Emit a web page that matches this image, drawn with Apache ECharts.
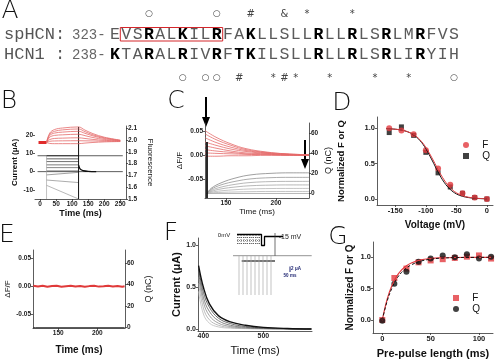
<!DOCTYPE html>
<html><head><meta charset="utf-8">
<script src="https://cdn.jsdelivr.net/npm/echarts@6/dist/echarts.min.js"></script>
<style>html,body{margin:0;padding:0;background:#fff}#c{width:500px;height:361px}</style>
</head><body><div id="c"></div>
<script>
// ================= DATA =================
// Panel A: sequences
const spLabel = 'spHCN:';
const spStart = '323-';
const spSeq = 'EVSRALKILRFAKLLSLLRLLRLSRLMRFVS';
const spBold = [3, 6, 9, 12, 18, 21, 24, 27];
const hcLabel = 'HCN1 :';
const hcStart = '238-';
const hcSeq = 'KTARALRIVRFTKILSLLRLLRLSRLIRYIH';
const hcBold = [0, 3, 6, 9, 11, 12, 18, 21, 24, 27];
const topMarks = ['○', '○', '#', '&', '*', '*'];
const topCols = [3, 9, 12, 15, 17, 21];
const botMarks = ['○', '○', '○', '#', '*', '#', '*', '*', '*', '*', '○'];
const botCols = [6, 8, 9, 11, 14, 15, 16, 19, 23, 26, 30];
const boxCols = [1, 9];

// Panel B: fluorescence (right axis) and current (left axis)
const bTimes = [20, 30, 45, 70, 120, 140, 165, 200, 250];
const bFluor = [
  [1.98, 2.06, 2.09, 2.103, 2.112, 2.085, 2.055, 2.025, 2.0],
  [1.98, 2.05, 2.075, 2.087, 2.095, 2.072, 2.045, 2.02, 1.998],
  [1.98, 2.04, 2.06, 2.068, 2.075, 2.058, 2.036, 2.014, 1.996],
  [1.98, 2.025, 2.04, 2.045, 2.05, 2.038, 2.022, 2.006, 1.994],
  [1.98, 2.005, 2.014, 2.017, 2.02, 2.014, 2.006, 1.998, 1.992],
  [1.98, 1.99, 1.993, 1.994, 1.995, 1.994, 1.993, 1.991, 1.99],
  [1.98, 1.972, 1.97, 1.97, 1.97, 1.975, 1.98, 1.985, 1.988]
];
const bPreT = [-5, 20];
const bPreF = [1.98, 1.98];
const bPulse = [20, 120];
const bHoldLevels = [8.7, 0];
const bHoldT = [-8, 258];
const bStepStart = [8.7, 7.0, 5.5, 3.7, 2.2, 0.4, -1.8, -4.6, -7.5];
const bStepEnd   = [8.7, 7.0, 5.5, 3.7, 2.2, 0.4, -0.4, -6.0, -15];
const bTailT = [120, 123, 128, 135, 150, 175];
const bTail = [3.5, 2.0, 1.0, 0.5, 0.15, 0];

// Panel C: dF/F (left) and Q (right)
const cRedT = [129, 140, 155, 170, 190, 210, 233];
const cRed = [
  [0.052, 0.038, 0.024, 0.014, 0.007, 0.003, 0.001],
  [0.045, 0.033, 0.021, 0.012, 0.006, 0.003, 0.001],
  [0.037, 0.027, 0.017, 0.010, 0.005, 0.002, 0.0],
  [0.028, 0.021, 0.013, 0.008, 0.004, 0.002, 0.0],
  [0.020, 0.015, 0.009, 0.005, 0.003, 0.001, 0.0],
  [0.012, 0.009, 0.006, 0.003, 0.002, 0.001, 0.0],
  [0.005, 0.004, 0.003, 0.002, 0.001, 0.0, 0.0],
  [-0.002, -0.002, -0.001, -0.001, 0.0, 0.0, 0.0]
];
const cQT = [131, 135, 145, 160, 175, 195, 215, 233];
const cQ = [
  [0, 5, 10.5, 15.5, 18.5, 20, 20.5, 20.5],
  [0, 4, 8.5, 12.2, 14.5, 15.7, 16, 16],
  [0, 3, 6.3, 9.2, 10.9, 11.8, 12, 12],
  [0, 2, 4.5, 6.5, 7.7, 8.3, 8.5, 8.5],
  [0, 1.2, 2.6, 3.8, 4.5, 4.9, 5, 5],
  [0, 0.5, 1.1, 1.5, 1.8, 2, 2, 2]
];

// Panel D: steady-state voltage dependence
const dV = [-160, -140, -120, -100, -80, -60, -40, -20, 0];
const dF = [1.0, 0.97, 0.915, 0.69, 0.43, 0.20, 0.08, 0.02, 0.0];
const dQ = [0.94, 1.02, 0.90, 0.66, 0.37, 0.17, 0.08, 0.02, 0.0];
const dFitV = [-165, -150, -140, -130, -120, -110, -100, -90, -80, -70, -60, -50, -40, -30, -20, -10, 0];
const dFitF = [0.995, 0.987, 0.975, 0.953, 0.911, 0.841, 0.731, 0.582, 0.418, 0.269, 0.159, 0.088, 0.047, 0.025, 0.013, 0.007, 0.003];
const dFitQ = [0.995, 0.987, 0.975, 0.951, 0.907, 0.831, 0.711, 0.552, 0.382, 0.236, 0.135, 0.072, 0.038, 0.02, 0.01, 0.005, 0.003];

// Panel E
const eT = [118, 124, 130, 136, 142, 148, 154, 160, 166, 172, 178, 184, 190, 196, 202, 208, 214, 220, 226, 232, 235];
const eRed = [0.001, -0.0005, 0.0008, -0.001, 0.0004, 0.0009, -0.0007, 0.0002, 0.001, -0.0004, 0.0006, -0.0009, 0.0003, 0.0008, -0.0006, 0.0001, 0.0009, -0.0003, 0.0005, -0.0008, 0.0];
const eQT = [118, 119, 121, 235];
const eQ = [0, -1.5, 0, 0];

// Panel F: tail currents
const fT = [392, 400, 410, 425, 445, 470, 500, 540, 580];
const fCur = [
  [0.76, 0.50, 0.30, 0.16, 0.085, 0.045, 0.02, 0.006, 0.0],
  [0.72, 0.44, 0.26, 0.13, 0.065, 0.03, 0.013, 0.004, 0.0],
  [0.68, 0.38, 0.21, 0.10, 0.045, 0.02, 0.008, 0.002, 0.0],
  [0.62, 0.32, 0.16, 0.07, 0.03, 0.012, 0.005, 0.001, 0.0],
  [0.55, 0.25, 0.11, 0.045, 0.018, 0.007, 0.003, 0.0, 0.0],
  [0.45, 0.18, 0.07, 0.025, 0.01, 0.004, 0.001, 0.0, 0.0]
];
// Panel F inset (schematic units)
const insProtocol = [[7, 6.5], [31.5, 6.5], [31.5, 17.5], [34.5, 17.5], [34.5, 8.5], [53, 8.5]];
const insLink = [[45, 5], [45, 28]];
const insDotX = [8, 11, 14, 17, 20, 23, 26, 29];
const insDotY = [9.5, 12.5, 15.5];
const insBase = [[3, 27.7], [81.7, 27.7]];
const insBand = [[11.7, 33], [45, 33]];
const insSpikeX = [9, 13, 17, 21, 25, 29, 33, 37, 41];
const insScale = [[60, 38.5], [60, 44]];

// Panel G: pre-pulse length
const gT = [0, 12.5, 25, 37.5, 50, 62.5, 75, 87.5, 100, 112.5];
const gF = [0.0, 0.67, 0.82, 0.92, 0.95, 0.97, 0.99, 1.01, 1.03, 0.98];
const gQ = [-0.01, 0.58, 0.77, 0.93, 0.98, 1.03, 1.0, 1.05, 0.98, 1.01];
const gFitT = [0, 5, 10, 15, 20, 25, 30, 40, 50, 60, 75, 90, 112.5];
const gFitF = [0, 0.33, 0.55, 0.70, 0.80, 0.865, 0.91, 0.96, 0.98, 0.99, 0.997, 1.0, 1.0];
const gFitQ = [0, 0.30, 0.51, 0.66, 0.76, 0.83, 0.88, 0.94, 0.97, 0.986, 0.995, 0.998, 1.0];

// ticks
const bXTicks = [0, 50, 100, 150, 200, 250];
const bYTicks = [-10, 0, 10, 20];
const bY2Ticks = [1.5, 1.6, 1.7, 1.8, 1.9, 2.0, 2.1];
const cXTicks = [150, 200];
const cYTicks = [-0.05, 0, 0.05];
const cY2Ticks = [0, 20, 40, 60];
const dXTicks = [-150, -100, -50, 0];
const dYTicks = [0, 0.5, 1.0];
const eXTicks = [150, 200];
const eYTicks = [-0.05, 0, 0.05];
const eY2Ticks = [0, 20, 40, 60];
const fXTicks = [400, 500];
const fYTicks = [0, 0.5, 1.0];
const gXTicks = [0, 50, 100];
const gYTicks = [0, 0.5, 1.0];

// ================= CHART =================
const FONT = 'Liberation Sans';
const RED = '#e23a3f';
const PINK = '#e46a6a';
const chart = echarts.init(document.getElementById('c'), null, {renderer: 'canvas'});

function axis(o) {
  return {
    gridIndex: o.g, min: o.min, max: o.max, position: o.pos, inverse: !!o.inv,
    show: o.show !== false,
    axisLine: {show: o.line !== false, onZero: false, lineStyle: {color: '#333', width: 0.8}},
    axisTick: {show: !!o.ticks, length: 2, lineStyle: {color: '#333', width: 0.8}, customValues: o.ticks},
    axisLabel: {show: !!o.ticks, customValues: o.ticks, fontSize: o.fs || 6.5, fontWeight: 'bold', color: '#222',
      fontFamily: FONT, margin: 2, formatter: o.fmt || (v => String(v))},
    splitLine: {show: false},
    name: o.name, nameLocation: 'middle', nameGap: o.gap, nameRotate: o.rot,
    nameTextStyle: {fontSize: o.nfs || 8, fontWeight: o.nfw || 'bold', color: '#111', fontFamily: FONT}
  };
}
const fx1 = v => v.toFixed(1), fx2 = v => v.toFixed(2);

const grid = [
  {left: 35, top: 126, width: 91, height: 73},   // B
  {left: 205, top: 123, width: 104, height: 75}, // C
  {left: 377, top: 117, width: 116, height: 88}, // D
  {left: 33, top: 250, width: 92, height: 78},   // E
  {left: 198, top: 238, width: 114, height: 93}, // F
  {left: 373, top: 242, width: 120, height: 91}, // G
  {left: 230, top: 228, width: 100, height: 72}  // F inset
];
const xAxis = [
  axis({g: 0, min: -16, max: 268, ticks: bXTicks, name: 'Time (ms)', gap: 8, nfs: 9}),
  axis({g: 1, min: 129, max: 233, ticks: cXTicks, name: 'Time (ms)', gap: 8, nfs: 8, nfw: 'normal'}),
  axis({g: 2, min: -180, max: 10, ticks: dXTicks, fs: 7.5, name: 'Voltage (mV)', gap: 15, nfs: 10}),
  axis({g: 3, min: 117.6, max: 235.5, ticks: eXTicks, name: 'Time (ms)', gap: 17, nfs: 10}),
  axis({g: 4, min: 391, max: 581, ticks: fXTicks, fs: 7, name: 'Time (ms)', gap: 14, nfs: 11, nfw: 'normal'}),
  axis({g: 5, min: -9.6, max: 114.5, ticks: gXTicks, fs: 7.5, name: 'Pre-pulse length (ms)', gap: 15, nfs: 11}),
  axis({g: 6, min: 0, max: 100, show: false})
];
const yAxis = [
  axis({g: 0, min: -15, max: 25, pos: 'left', ticks: bYTicks, line: false, name: 'Current (μA)', gap: 16, rot: 90, nfs: 8}),
  axis({g: 0, min: 1.5, max: 2.12, pos: 'right', ticks: bY2Ticks, fmt: fx1, name: 'Fluorescence', gap: 20, rot: -90, nfs: 8, nfw: 'normal'}),
  axis({g: 1, min: -0.09, max: 0.068, pos: 'left', ticks: cYTicks, fmt: fx2, name: 'ΔF/F', gap: 12, rot: 90, nfs: 8, nfw: 'normal'}),
  axis({g: 1, min: -4.5, max: 70, pos: 'right', ticks: cY2Ticks, name: 'Q (nC)', gap: 15, rot: 90, nfs: 9, nfw: 'normal'}),
  axis({g: 2, min: -0.085, max: 1.16, pos: 'left', ticks: dYTicks, fs: 7.5, fmt: fx1, name: 'Normalized F or Q', gap: 31, rot: 90, nfs: 9.5}),
  axis({g: 3, min: -0.0745, max: 0.0648, pos: 'left', ticks: eYTicks, fmt: fx2, name: 'ΔF/F', gap: 18, rot: 90, nfs: 8, nfw: 'normal'}),
  axis({g: 3, min: -0.3, max: 72.3, pos: 'right', ticks: eY2Ticks, name: 'Q (nC)', gap: 19, rot: 90, nfs: 9, nfw: 'normal'}),
  axis({g: 4, min: -0.024, max: 1.09, pos: 'left', ticks: fYTicks, fs: 7, fmt: fx1, name: 'Current (μA)', gap: 14, rot: 90, nfs: 11}),
  axis({g: 5, min: -0.207, max: 1.244, pos: 'left', ticks: gYTicks, fs: 7.5, fmt: fx1, name: 'Normalized F or Q', gap: 18, rot: 90, nfs: 10}),
  axis({g: 6, min: 0, max: 72, inv: true, show: false})
];

const series = [];
function line(xi, yi, data, color, width, extra) {
  series.push(Object.assign({type: 'line', xAxisIndex: xi, yAxisIndex: yi, data, showSymbol: false, symbol: 'none',
    silent: true, animation: false, clip: false, lineStyle: {color, width}}, extra || {}));
}
const zip = (a, b) => a.map((v, i) => [v, b[i]]);

// ---- B
const bGrays = ['#111', '#222', '#333', '#444', '#555', '#555', '#777', '#888', '#999'];
bHoldLevels.forEach(v => line(0, 0, [[bHoldT[0], v], [bHoldT[1], v]], '#333', 0.8));
bStepStart.forEach((v, i) => line(0, 0, [[bPulse[0], v], [bPulse[1], bStepEnd[i]]], bGrays[i], 0.7));
line(0, 0, [[bPulse[0], -15], [bPulse[0], bStepStart[0]]], '#999', 0.6);
line(0, 0, [[bPulse[1], -15], [bPulse[1], 24.5]], '#111', 1);
line(0, 0, zip(bTailT, bTail), '#111', 1.4, {smooth: 0.4});
line(0, 1, zip(bPreT, bPreF), '#e02a2a', 3);
bFluor.forEach(v => line(0, 1, zip(bTimes, v), PINK, 0.8, {smooth: 0.35}));

// ---- C
const cGrays = ['#777', '#888', '#999', '#999', '#aaa', '#aaa'];
line(1, 3, [[cQT[0], 0], [233, 0]], '#999', 0.7);
cQ.forEach((v, i) => line(1, 3, zip(cQT, v), cGrays[i], 0.7, {smooth: 0.4}));
cRed.forEach(v => line(1, 2, zip(cRedT, v), PINK, 0.8, {smooth: 0.4}));
line(1, 2, [[131, -0.09], [131, 0.028]], '#111', 1.8);

// ---- D
line(2, 4, zip(dFitV, dFitQ), '#111', 1, {smooth: 0.4});
line(2, 4, zip(dFitV, dFitF), RED, 1, {smooth: 0.4});
series.push({type: 'scatter', name: 'Q', xAxisIndex: 2, yAxisIndex: 4, data: zip(dV, dQ), symbol: 'rect', symbolSize: 5,
  itemStyle: {color: '#111'}, silent: true, animation: false});
series.push({type: 'scatter', name: 'F', xAxisIndex: 2, yAxisIndex: 4, data: zip(dV, dF), symbol: 'circle', symbolSize: 6,
  itemStyle: {color: RED}, silent: true, animation: false});

// ---- E
line(3, 6, zip(eQT, eQ), '#222', 0.9);
line(3, 5, zip(eT, eRed), '#e03a3a', 2);

// ---- F
const fGrays = ['#111', '#444', '#666', '#888', '#aaa', '#bbb'];
fCur.slice().reverse().forEach((v, i) => line(4, 7, zip(fT, v), fGrays[fCur.length - 1 - i], i === fCur.length - 1 ? 1.4 : 0.8, {smooth: 0.4}));

// ---- F inset
insDotX.forEach(x => line(6, 9, [[x, 7], [x, 17]], '#222', 0.6, {lineStyle: {color: '#222', width: 0.6, type: [1, 1]}}));
insDotY.forEach(y => line(6, 9, [[7, y], [31, y]], '#222', 0.6, {lineStyle: {color: '#222', width: 0.6, type: [1, 1]}}));
line(6, 9, insProtocol, '#000', 1.3);
line(6, 9, insLink, '#333', 0.7);
line(6, 9, insBase, '#666', 0.7);
line(6, 9, insBand, '#777', 2);
insSpikeX.forEach(x => line(6, 9, [[x, 27.7], [x, 67]], '#aaa', 0.7));
line(6, 9, insScale, '#1c2370', 1);

// ---- G
line(5, 8, zip(gFitT, gFitF), RED, 1.2, {smooth: 0.4});
line(5, 8, zip(gFitT, gFitQ), '#111', 1, {smooth: 0.4, lineStyle: {color: '#111', width: 1, type: [3, 2]}});
series.push({type: 'scatter', name: 'F ', xAxisIndex: 5, yAxisIndex: 8, data: zip(gT, gF), symbol: 'rect', symbolSize: 6,
  itemStyle: {color: RED}, silent: true, animation: false});
series.push({type: 'scatter', name: 'Q ', xAxisIndex: 5, yAxisIndex: 8, data: zip(gT, gQ), symbol: 'circle', symbolSize: 6,
  itemStyle: {color: '#111'}, silent: true, animation: false});

// ---- graphics (panel letters, sequence text, annotations)
const graphic = [];
function txt(x, y, text, size, o) {
  o = o || {};
  graphic.push({type: 'text', x, y, silent: true, rotation: o.rot || 0, style: {
    text, fontSize: size, fontFamily: o.font || FONT, fontWeight: o.weight || 'normal', fill: o.color || '#222',
    align: o.align || 'center', verticalAlign: 'middle', textAlign: o.align || 'center', textVerticalAlign: 'middle'}});
}
// panel letters
[['A', 10, 11], ['B', 9, 101], ['C', 176, 101], ['D', 342, 103], ['E', 7, 235], ['F', 171, 233], ['G', 338, 237]]
  .forEach(([t, x, y]) => txt(x, y, t, 25, {font: 'DejaVu Sans', weight: 200, color: '#111'}));
// sequence rows
const colX = i => 115 + 11.3 * i;
const rowY = [34.5, 54.5];
const MONO = 'Liberation Mono';
txt(4, rowY[0], spLabel, 17, {font: MONO, align: 'left', color: '#555'});
txt(4, rowY[1], hcLabel, 17, {font: MONO, align: 'left', color: '#555'});
txt(72, rowY[0] + 1, spStart, 14, {font: MONO, align: 'left', color: '#666'});
txt(72, rowY[1] + 1, hcStart, 14, {font: MONO, align: 'left', color: '#666'});
[[spSeq, spBold], [hcSeq, hcBold]].forEach(([seq, bold], r) => {
  seq.split('').forEach((ch, i) => {
    const b = bold.includes(i);
    txt(colX(i), rowY[r], ch, 16.5, {font: MONO, weight: b ? 'bold' : 'normal', color: b ? '#000' : '#5a5a5a'});
  });
});
topMarks.forEach((m, k) => txt(colX(topCols[k]), 14, m, m === '○' ? 9 : 10, {font: 'DejaVu Sans', color: '#444'}));
botMarks.forEach((m, k) => txt(colX(botCols[k]), 78, m, m === '○' ? 9 : 10, {font: 'DejaVu Sans', color: '#444'}));
graphic.push({type: 'rect', silent: true, shape: {x: colX(boxCols[0]) - 6, y: 27.5, width: colX(boxCols[1]) - colX(boxCols[0]) + 12, height: 13.5},
  style: {fill: 'none', stroke: '#d4262b', lineWidth: 1}});
// arrows in C
[[206, 97, 127], [305, 140, 169]].forEach(([x, y1, y2]) => {
  graphic.push({type: 'line', silent: true, shape: {x1: x, y1, x2: x, y2: y2 - 8}, style: {stroke: '#000', lineWidth: 2}});
  graphic.push({type: 'polygon', silent: true, shape: {points: [[x - 4, y2 - 10], [x + 4, y2 - 10], [x, y2]]}, style: {fill: '#000'}});
});
// inset labels in F
txt(224, 235, '0mV', 6, {color: '#222'});
txt(290, 237.5, '-15 mV', 7, {color: '#222'});
txt(296, 269, '2 μA', 4.5, {color: '#1c2370', weight: 'bold'});
txt(290, 276, '50 ms', 4.5, {color: '#1c2370', weight: 'bold'});

const legendBase = {orient: 'vertical', itemWidth: 6, itemHeight: 6, itemGap: 1, selectedMode: false,
  formatter: n => '   ' + n.trim(),
  textStyle: {fontSize: 10, lineHeight: 8, color: '#111', fontFamily: FONT}};
chart.setOption({
  animation: false,
  grid, xAxis, yAxis, series, graphic,
  legend: [
    Object.assign({}, legendBase, {left: 458, top: 135, data: [{name: 'F', icon: 'circle'}, {name: 'Q', icon: 'rect'}]}),
    Object.assign({}, legendBase, {left: 448, top: 288, data: [{name: 'F ', icon: 'rect'}, {name: 'Q ', icon: 'circle'}]})
  ]
});
</script></body></html>
